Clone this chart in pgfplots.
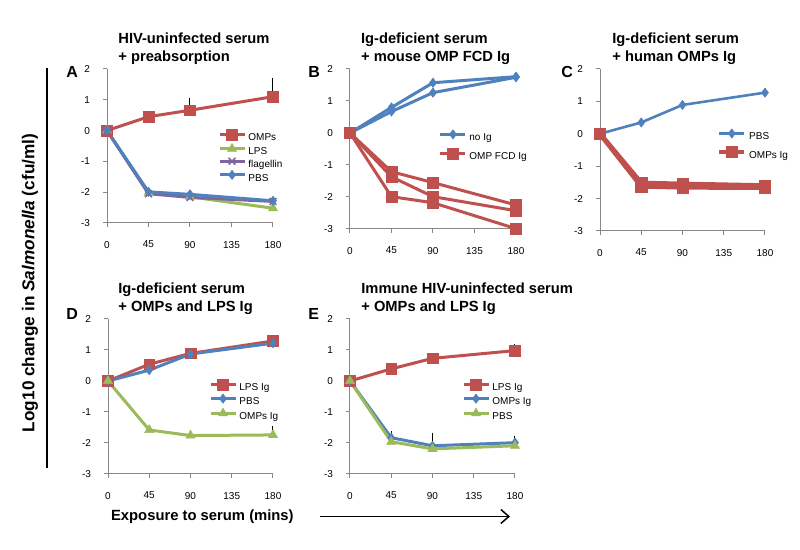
\documentclass[border=0pt]{standalone}
\usepackage{pgfplots}
\pgfplotsset{compat=1.18}
\usepackage{fontspec}
\setmainfont{Liberation Sans}
\usetikzlibrary{arrows.meta}

\definecolor{cred}{HTML}{C0504D}
\definecolor{cblue}{HTML}{4F81BD}
\definecolor{cgreen}{HTML}{9BBB59}
\definecolor{cpurple}{HTML}{8064A2}
\definecolor{axisgray}{HTML}{878787}

\newcommand{\tickfont}{\fontsize{5}{6}\selectfont}
\newcommand{\titlefont}{\fontsize{7.35}{9}\selectfont\bfseries}

% Excel-like legend sample: short line, mark in the middle
\pgfplotsset{
  legend image code/.code={
    \draw[mark repeat=2,mark phase=2,#1] plot coordinates {(0pt,1.7pt) (6.25pt,1.7pt) (12.5pt,1.7pt)};
  },
  panel/.style={
    scale only axis, clip=false,
    xmin=0, xmax=180, ymin=-3, ymax=2,
    axis lines*=left,
    axis line style={draw=axisgray, line width=0.5pt},
    tick style={draw=axisgray, line width=0.5pt},
    tick align=outside, major tick length=2pt,
    xtick={0,45,90,135,180}, xticklabels={0,45,90,135,180},
    ytick={-3,-2,-1,0,1,2}, yticklabels={-3,-2,-1,0,1,2},
    tick label style={font=\tickfont},
    xticklabel style={yshift=-3.5pt},
    yticklabel style={xshift=-3pt},
    legend style={draw=none, fill=none, inner sep=0pt, outer sep=0pt,
      anchor=north west, font=\tickfont, column sep=1.2pt,
      nodes={inner sep=0pt, text height=3.6pt, text depth=0.9pt}},
    legend cell align=left,
  },
  sred/.style={color=cred, line width=1.5pt, mark=square*, mark size=2.7pt,
    mark options={solid, fill=cred, draw=cred, line width=0.3pt}},
  sblue/.style={color=cblue, line width=1.5pt, mark=diamond*, mark size=2.3pt,
    mark options={solid, fill=cblue, draw=cblue, line width=0.3pt}},
  sgreen/.style={color=cgreen, line width=1.5pt, mark=triangle*, mark size=2.6pt,
    mark options={solid, fill=cgreen, draw=cgreen, line width=0.3pt}},
  spurple/.style={color=cpurple, line width=1.5pt, mark=x, mark size=2.4pt,
    mark options={solid, line width=0.8pt}},
  errs/.style={forget plot, draw=none, mark=none,
    error bars/.cd, y dir=plus, y explicit,
    error bar style={draw=black, line width=0.5pt},
    error mark options={draw=black, mark size=1.6pt, line width=0.5pt}},
}

\begin{document}
\begin{tikzpicture}
\path[use as bounding box] (0pt,0pt) rectangle (400pt,275pt);

% ---------- A ----------
\begin{axis}[panel, at={(53.5pt,163.5pt)}, anchor=south west, width=83pt, height=77pt,
  legend style={at={(axis cs:120.4,0.05)}, row sep=0.6pt}]
\addplot[errs] coordinates {(90,0.66) +- (0,0.28) (180,1.1) +- (0,0.5)};
\addplot[sred] coordinates {(0,0) (45,0.45) (90,0.66) (180,1.1)};
\addlegendentry{OMPs}
\addplot[sgreen] coordinates {(0,0) (45,-2.02) (90,-2.15) (180,-2.52)};
\addlegendentry{LPS}
\addplot[spurple] coordinates {(0,0) (45,-2.05) (90,-2.17) (180,-2.3)};
\addlegendentry{flagellin}
\addplot[sblue] coordinates {(0,0) (45,-1.99) (90,-2.07) (180,-2.28)};
\addlegendentry{PBS}
\end{axis}

% ---------- B ----------
\begin{axis}[panel, at={(175pt,160.5pt)}, anchor=south west, width=83pt, height=80pt,
  legend style={at={(axis cs:96.5,0.1)}, row sep=3pt}]
\addplot[sblue] coordinates {(0,0) (45,0.80) (90,1.57) (180,1.76)};
\addlegendentry{no Ig}
\addplot[sred, mark size=2.8pt] coordinates {(0,0) (45,-1.21) (90,-1.55) (180,-2.25)};
\addlegendentry{OMP FCD Ig}
\addplot[sblue, forget plot] coordinates {(0,0) (45,0.67) (90,1.26) (180,1.74)};
\addplot[sred, mark size=2.8pt, forget plot] coordinates {(0,0) (45,-1.37) (90,-1.99) (180,-2.43)};
\addplot[sred, mark size=2.8pt, forget plot] coordinates {(0,0) (45,-1.99) (90,-2.18) (180,-2.99)};
\end{axis}

% ---------- C ----------
\begin{axis}[panel, at={(300pt,159.5pt)}, anchor=south west, width=82.5pt, height=81pt,
  legend style={at={(axis cs:127.6,0.15)}, row sep=2.5pt}]
\addplot[sblue, line width=1.3pt] coordinates {(0,0) (45,0.35) (90,0.89) (180,1.27)};
\addlegendentry{PBS}
\addplot[sred, line width=2.4pt, mark size=2.8pt] coordinates {(0,0) (45,-1.52) (90,-1.55) (180,-1.6)};
\addlegendentry{OMPs Ig}
\addplot[sred, line width=2.4pt, mark size=2.8pt, forget plot] coordinates {(0,0) (45,-1.62) (90,-1.65) (180,-1.66)};
\end{axis}

% ---------- D ----------
\begin{axis}[panel, at={(54pt,38pt)}, anchor=south west, width=82.5pt, height=77.5pt,
  legend style={at={(axis cs:110.2,0.06)}, row sep=0.8pt}]
\addplot[errs] coordinates {(90,-1.76) +- (0,0.09) (180,-1.74) +- (0,0.18)};
\addplot[sred] coordinates {(0,0) (45,0.54) (90,0.89) (180,1.29)};
\addlegendentry{LPS Ig}
\addplot[sblue] coordinates {(0,0) (45,0.35) (90,0.87) (180,1.22)};
\addlegendentry{PBS}
\addplot[sgreen] coordinates {(0,0) (45,-1.58) (90,-1.76) (180,-1.74)};
\addlegendentry{OMPs Ig}
\end{axis}

% ---------- E ----------
\begin{axis}[panel, at={(175pt,38pt)}, anchor=south west, width=82.5pt, height=77.5pt,
  legend style={at={(axis cs:122.2,0.06)}, row sep=0.8pt}]
\addplot[errs] coordinates {(180,0.98) +- (0,0.1) (45,-1.83) +- (0,0.1) (90,-2.09) +- (0,0.32) (180,-1.99) +- (0,0.11)};
\addplot[sred] coordinates {(0,0) (45,0.39) (90,0.73) (180,0.98)};
\addlegendentry{LPS Ig}
\addplot[sblue] coordinates {(0,0) (45,-1.83) (90,-2.09) (180,-1.99)};
\addlegendentry{OMPs Ig}
\addplot[sgreen] coordinates {(0,0) (45,-1.96) (90,-2.19) (180,-2.09)};
\addlegendentry{PBS}
\end{axis}

% ---------- titles ----------
\begin{scope}[every node/.style={inner sep=0pt, anchor=base west, font=\titlefont}]
\node at (59pt,253.35pt) {HIV-uninfected serum};
\node at (59pt,244.35pt) {+ preabsorption};
\node at (180.35pt,253.35pt) {Ig-deficient serum};
\node at (180.35pt,244.35pt) {+ mouse OMP FCD Ig};
\node at (306pt,253.35pt) {Ig-deficient serum};
\node at (306pt,244.35pt) {+ human OMPs Ig};
\node at (59pt,128.35pt) {Ig-deficient serum};
\node at (59pt,119.15pt) {+ OMPs and LPS Ig};
\node at (180.5pt,128.35pt) {Immune HIV-uninfected serum};
\node at (180.5pt,119.15pt) {+ OMPs and LPS Ig};
\end{scope}

% ---------- panel letters ----------
\begin{scope}[every node/.style={inner sep=0pt, anchor=base west, font=\fontsize{8}{9}\selectfont\bfseries}]
\node at (33pt,236pt) {A};
\node at (154pt,236pt) {B};
\node at (280.5pt,236pt) {C};
\node at (33pt,115pt) {D};
\node at (154pt,115pt) {E};
\end{scope}

% ---------- shared axis labels ----------
\node[inner sep=0pt, rotate=90, font=\fontsize{8.6}{10}\selectfont\bfseries] at (15pt,133.5pt)
  {Log10 change in \textit{Salmonella} (cfu/ml)};
\draw[black, line width=0.75pt] (23.5pt,241pt) -- (23.5pt,41pt);
\node[inner sep=0pt, anchor=base west, font=\fontsize{7.4}{9}\selectfont\bfseries] at (55.35pt,14.5pt)
  {Exposure to serum (mins)};
\draw[black, line width=0.75pt, -{Straight Barb[length=4pt, width=7pt]}] (160pt,16.75pt) -- (255pt,16.75pt);
\end{tikzpicture}
\end{document}
